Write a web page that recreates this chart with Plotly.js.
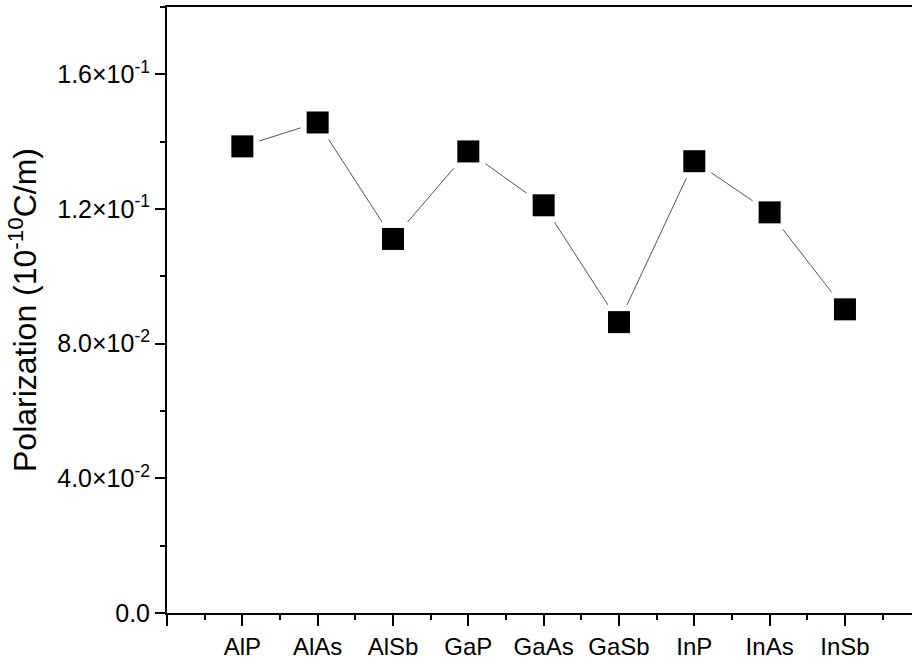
<!DOCTYPE html>
<html>
<head>
<meta charset="utf-8">
<script src="https://cdn.plot.ly/plotly-3.0.1.min.js"></script>
<style>html,body{margin:0;padding:0;background:#fff;}#chart{width:912px;height:667px;}</style>
</head>
<body>
<div id="chart"></div>
<script>
const categories = ["AlP", "AlAs", "AlSb", "GaP", "GaAs", "GaSb", "InP", "InAs", "InSb"];
const polarization = [0.1386, 0.1457, 0.1111, 0.1371, 0.1211, 0.0864, 0.1342, 0.1190, 0.0902];
const yTickVals = [0, 0.04, 0.08, 0.12, 0.16];
const yTickText = ["0.0", "4.0×10<sup>-2</sup>", "8.0×10<sup>-2</sup>", "1.2×10<sup>-1</sup>", "1.6×10<sup>-1</sup>"];

const xpos = categories.map((c, i) => i + 1);
const font = {family: "Liberation Sans, Arial, sans-serif", color: "#000"};

const traces = [
  {x: xpos, y: polarization, mode: "lines+markers", type: "scatter",
   line: {color: "#555", width: 1},
   marker: {symbol: "square", size: 34, color: "#fff", line: {width: 0}},
   hoverinfo: "skip", showlegend: false},
  {x: xpos, y: polarization, mode: "markers", type: "scatter",
   marker: {symbol: "square", size: 22, color: "#000", line: {width: 0}},
   text: categories, showlegend: false}
];

const layout = {
  width: 912, height: 667,
  margin: {l: 167, r: 0, t: 7, b: 54},
  paper_bgcolor: "#fff", plot_bgcolor: "#fff",
  font: font,
  showlegend: false,
  xaxis: {
    range: [0, 9.89], showgrid: false, zeroline: false,
    tickmode: "array", tickvals: [0].concat(xpos), ticktext: [""].concat(categories),
    ticks: "outside", ticklen: 11, tickwidth: 2, tickcolor: "#000",
    minor: {tickmode: "linear", tick0: 0.5, dtick: 1, ticks: "outside", ticklen: 5, tickwidth: 2, tickcolor: "#000", showgrid: false},
    showline: true, linewidth: 2, linecolor: "#000", mirror: true,
    tickfont: {size: 24, family: font.family, color: "#000"}
  },
  yaxis: {
    range: [0, 0.18], showgrid: false, zeroline: false,
    tickmode: "array", tickvals: yTickVals, ticktext: yTickText,
    ticks: "outside", ticklen: 10, tickwidth: 2, tickcolor: "#000",
    minor: {tickmode: "linear", tick0: 0.02, dtick: 0.04, ticks: "outside", ticklen: 5, tickwidth: 2, tickcolor: "#000", showgrid: false},
    showline: true, linewidth: 2, linecolor: "#000",
    tickfont: {size: 25, family: font.family, color: "#000"},
    title: {text: "Polarization (10<sup>-10</sup>C/m)", font: {size: 32, family: font.family, color: "#000"}, standoff: 11}
  }
};

Plotly.newPlot("chart", traces, layout, {displayModeBar: false, staticPlot: true});
</script>
</body>
</html>
